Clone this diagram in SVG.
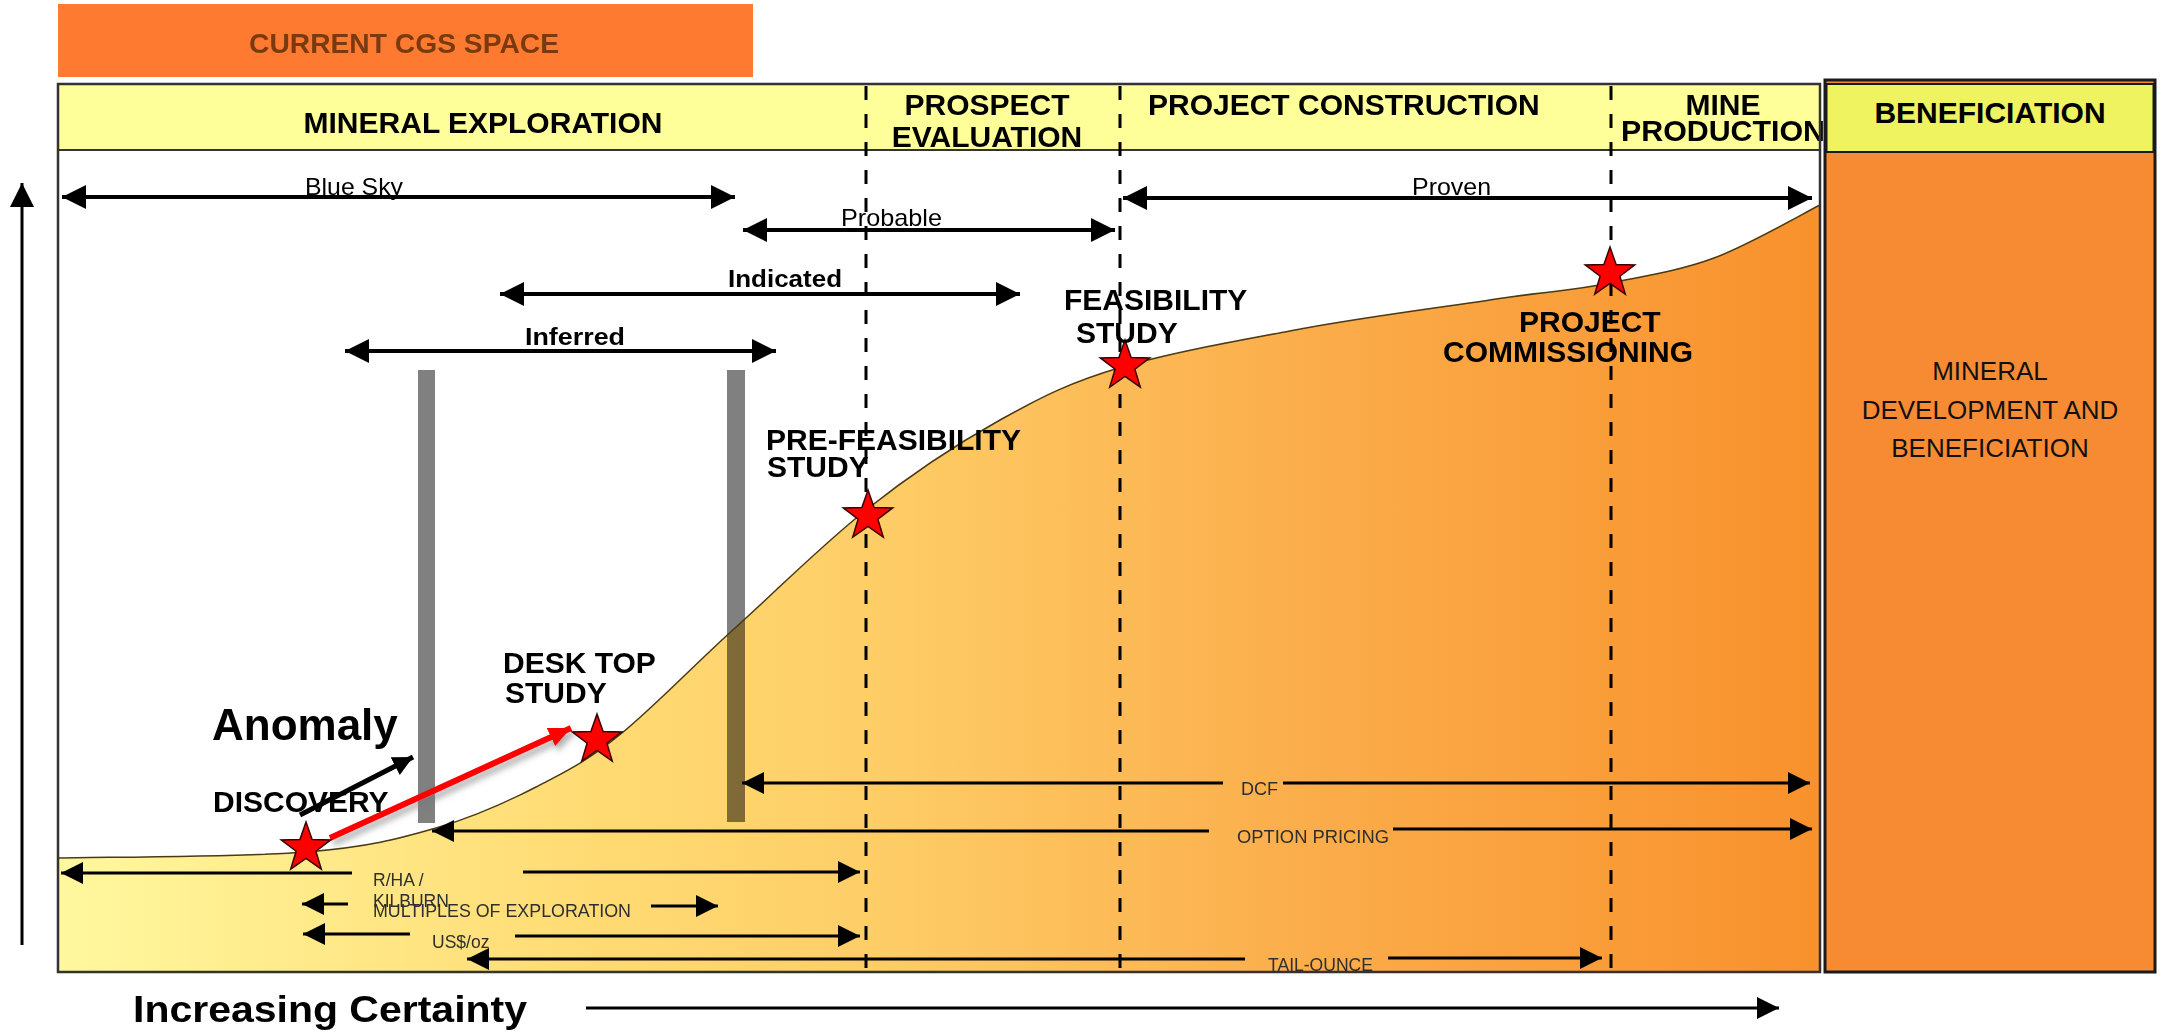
<svg xmlns="http://www.w3.org/2000/svg" width="2162" height="1033" viewBox="0 0 2162 1033">
<style>
text{font-family:"Liberation Sans",Arial,sans-serif;fill:#000}
.hd{font-size:30px;font-weight:bold}
.lbl{font-size:30px;font-weight:bold}
.rng{font-size:24px}
.rngb{font-size:24px;font-weight:bold}
.sm{font-size:17.5px;fill:#2e2e2e}
.ben{font-size:26px;fill:#111}
.arr{stroke:#000;stroke-width:4;fill:none}
.arr2{stroke:#000;stroke-width:3;fill:none}
.dash{stroke:#000;stroke-width:3;stroke-dasharray:14 14;fill:none}
.bar{fill:#808080}
.star{fill:#FF0000;stroke:#3a0000;stroke-width:1.5}
</style>
<defs>
<marker id="ah" viewBox="0 0 24 24" refX="24" refY="12" markerWidth="24" markerHeight="24" markerUnits="userSpaceOnUse" orient="auto-start-reverse"><path d="M0,0 L24,12 L0,24 Z" fill="#000"/></marker>
<marker id="ahs" viewBox="0 0 22 22" refX="22" refY="11" markerWidth="22" markerHeight="22" markerUnits="userSpaceOnUse" orient="auto-start-reverse"><path d="M0,0 L22,11 L0,22 Z" fill="#000"/></marker>
<marker id="ahm" viewBox="0 0 20 20" refX="20" refY="10" markerWidth="20" markerHeight="20" markerUnits="userSpaceOnUse" orient="auto"><path d="M0,0 L20,10 L0,20 Z" fill="#000"/></marker>
<marker id="ahr" viewBox="0 0 22 20" refX="22" refY="10" markerWidth="22" markerHeight="20" markerUnits="userSpaceOnUse" orient="auto"><path d="M0,0 L22,10 L0,20 Z" fill="#FF0000"/></marker>
<linearGradient id="areaGrad" gradientUnits="userSpaceOnUse" x1="58" y1="0" x2="1820" y2="0">
<stop offset="0" stop-color="#FFF89E"/>
<stop offset="0.3" stop-color="#FFDB74"/>
<stop offset="0.45" stop-color="#FECF68"/>
<stop offset="0.7" stop-color="#FBAE4C"/>
<stop offset="1" stop-color="#F8912C"/>
</linearGradient>
<filter id="shadow" x="-20%" y="-50%" width="140%" height="200%"><feDropShadow dx="3" dy="5" stdDeviation="3" flood-color="#777" flood-opacity="0.6"/></filter>
<path id="starShape" d="M0,-26 L6.11,-8.41 L24.73,-8.03 L9.89,3.21 L15.28,21.03 L0,10.4 L-15.28,21.03 L-9.89,3.21 L-24.73,-8.03 L-6.11,-8.41 Z"/>
</defs>
<rect x="0" y="0" width="2162" height="1033" fill="#FFFFFF"/>

<g id="cgs-space">
<rect x="58" y="4" width="695" height="73" fill="#FE7A31"/>
<text x="404" y="53" text-anchor="middle" style="font-size:28px;font-weight:bold;fill:#7A3A10" textLength="310" lengthAdjust="spacingAndGlyphs">CURRENT CGS SPACE</text>
</g>

<g id="stage-header">
<rect x="58" y="84" width="1762" height="66" fill="#FFFF99" stroke="#333" stroke-width="2"/>
<text class="hd" x="483" y="133" text-anchor="middle">MINERAL EXPLORATION</text>
<text class="hd" x="987" y="115" text-anchor="middle">PROSPECT</text>
<text class="hd" x="987" y="147" text-anchor="middle">EVALUATION</text>
<text class="hd" x="1148" y="115">PROJECT CONSTRUCTION</text>
<text class="hd" x="1723" y="115" text-anchor="middle">MINE</text>
<text class="hd" x="1621" y="141" textLength="204" lengthAdjust="spacingAndGlyphs">PRODUCTION</text>
</g>

<g id="bars">
<rect class="bar" x="418" y="370" width="17" height="453"/>
<rect class="bar" x="727" y="370" width="18" height="452"/>
</g>

<g id="certainty-curve">
<path d="M58,858 C99,857 243,857 306,852 C369,847 398,839 436,828 C474,817 505,803 536,787 C567,771 589,760 622,733 C655,706 694,665 735,628 C776,591 822,545 866,510 C910,475 957,444 1000,420 C1043,396 1071,382 1122,367 C1173,352 1241,340 1306,328 C1371,316 1459,305 1510,297 C1561,290 1576,290 1610,283 C1644,276 1679,271 1714,258 C1749,245 1802,214 1820,205 L1820,972 L58,972 Z" fill="url(#areaGrad)" style="mix-blend-mode:multiply"/>
<path d="M58,858 C99,857 243,857 306,852 C369,847 398,839 436,828 C474,817 505,803 536,787 C567,771 589,760 622,733 C655,706 694,665 735,628 C776,591 822,545 866,510 C910,475 957,444 1000,420 C1043,396 1071,382 1122,367 C1173,352 1241,340 1306,328 C1371,316 1459,305 1510,297 C1561,290 1576,290 1610,283 C1644,276 1679,271 1714,258 C1749,245 1802,214 1820,205" fill="none" stroke="#4a3a14" stroke-width="1.5"/>
</g>

<g id="main-frame">
<rect x="58" y="84" width="1762" height="888" fill="none" stroke="#333" stroke-width="2.5"/>
</g>

<g id="stage-dividers">
<line class="dash" x1="866" y1="86" x2="866" y2="972"/>
<line class="dash" x1="1120" y1="86" x2="1120" y2="972"/>
<line class="dash" x1="1611" y1="86" x2="1611" y2="972"/>
</g>

<g id="beneficiation">
<rect x="1825" y="80" width="330" height="892" fill="#F68B34" stroke="#1a1a1a" stroke-width="3"/>
<rect x="1826.5" y="84" width="327" height="68" fill="#EEF35F" stroke="#1a1a1a" stroke-width="2"/>
<text class="hd" x="1990" y="123" text-anchor="middle">BENEFICIATION</text>
<text class="ben" x="1990" y="380" text-anchor="middle">MINERAL</text>
<text class="ben" x="1990" y="419" text-anchor="middle">DEVELOPMENT AND</text>
<text class="ben" x="1990" y="457" text-anchor="middle">BENEFICIATION</text>
</g>

<g id="connectors">
<line class="arr2" x1="22" y1="945" x2="22" y2="183" marker-end="url(#ah)"/>
<line class="arr" x1="62" y1="197" x2="735" y2="197" marker-start="url(#ah)" marker-end="url(#ah)"/>
<line class="arr" x1="743" y1="230" x2="1115" y2="230" marker-start="url(#ah)" marker-end="url(#ah)"/>
<line class="arr" x1="1123" y1="198" x2="1812" y2="198" marker-start="url(#ah)" marker-end="url(#ah)"/>
<line class="arr" x1="500" y1="294" x2="1020" y2="294" marker-start="url(#ah)" marker-end="url(#ah)"/>
<line class="arr" x1="345" y1="351" x2="776" y2="351" marker-start="url(#ah)" marker-end="url(#ah)"/>

<line class="arr2" x1="61" y1="873" x2="352" y2="873" marker-start="url(#ahs)"/>
<line class="arr2" x1="523" y1="872" x2="860" y2="872" marker-end="url(#ahs)"/>
<line class="arr2" x1="302" y1="904" x2="348" y2="904" marker-start="url(#ahs)"/>
<line class="arr2" x1="651" y1="906" x2="718" y2="906" marker-end="url(#ahs)"/>
<line class="arr2" x1="303" y1="934" x2="410" y2="934" marker-start="url(#ahs)"/>
<line class="arr2" x1="515" y1="936" x2="860" y2="936" marker-end="url(#ahs)"/>
<line class="arr2" x1="467" y1="959" x2="1245" y2="959" marker-start="url(#ahs)"/>
<line class="arr2" x1="1388" y1="958" x2="1602" y2="958" marker-end="url(#ahs)"/>
<line class="arr2" x1="742" y1="783" x2="1223" y2="783" marker-start="url(#ahs)"/>
<line class="arr2" x1="1283" y1="783" x2="1810" y2="783" marker-end="url(#ahs)"/>
<line class="arr2" x1="432" y1="831" x2="1209" y2="831" marker-start="url(#ahs)"/>
<line class="arr2" x1="1393" y1="829" x2="1812" y2="829" marker-end="url(#ahs)"/>

<line class="arr2" x1="586" y1="1008" x2="1779" y2="1008" marker-end="url(#ahs)"/>

<line x1="300" y1="815" x2="413" y2="757" stroke="#000" stroke-width="5" marker-end="url(#ahm)"/>
<line x1="330" y1="838" x2="571" y2="728" stroke="#FF0000" stroke-width="6" marker-end="url(#ahr)" filter="url(#shadow)"/>
</g>

<g id="range-labels">
<text class="rng" x="305" y="195" textLength="98" lengthAdjust="spacingAndGlyphs">Blue Sky</text>
<text class="rng" x="841" y="226" textLength="101" lengthAdjust="spacingAndGlyphs">Probable</text>
<text class="rng" x="1412" y="195" textLength="79" lengthAdjust="spacingAndGlyphs">Proven</text>
<text class="rngb" x="728" y="287" textLength="114" lengthAdjust="spacingAndGlyphs">Indicated</text>
<text class="rngb" x="525" y="345" textLength="100" lengthAdjust="spacingAndGlyphs">Inferred</text>
</g>

<g id="valuation-labels">
<text class="sm" x="373" y="886">R/HA /</text>
<text class="sm" x="373" y="907">KILBURN</text>
<text class="sm" x="373" y="917" textLength="258" lengthAdjust="spacingAndGlyphs">MULTIPLES  OF EXPLORATION</text>
<text class="sm" x="432" y="948">US$/oz</text>
<text class="sm" x="1241" y="795" style="font-size:18px">DCF</text>
<text class="sm" x="1237" y="843" style="font-size:18px" textLength="152" lengthAdjust="spacingAndGlyphs">OPTION PRICING</text>
<text class="sm" x="1268" y="971" textLength="105" lengthAdjust="spacingAndGlyphs">TAIL-OUNCE</text>
</g>

<g id="discovery">
<use href="#starShape" class="star" x="306" y="848"/>
<text class="lbl" x="213" y="812">DISCOVERY</text>
<text x="212" y="740" style="font-size:44px;font-weight:bold">Anomaly</text>
</g>
<g id="desk-top-study">
<use href="#starShape" class="star" x="597" y="740"/>
<text class="lbl" x="503" y="673">DESK TOP</text>
<text class="lbl" x="505" y="703">STUDY</text>
</g>
<g id="pre-feasibility-study">
<use href="#starShape" class="star" x="868" y="516"/>
<text class="lbl" x="766" y="450">PRE-FEASIBILITY</text>
<text class="lbl" x="767" y="477">STUDY</text>
</g>
<g id="feasibility-study">
<use href="#starShape" class="star" x="1125" y="366"/>
<text class="lbl" x="1064" y="310">FEASIBILITY</text>
<text class="lbl" x="1076" y="343">STUDY</text>
</g>
<g id="project-commissioning">
<use href="#starShape" class="star" x="1610" y="273"/>
<text class="lbl" x="1519" y="332">PROJECT</text>
<text class="lbl" x="1443" y="362">COMMISSIONING</text>
</g>

<g id="axis-label">
<text x="133" y="1022" style="font-size:36px;font-weight:bold" textLength="394" lengthAdjust="spacingAndGlyphs">Increasing  Certainty</text>
</g>
</svg>
